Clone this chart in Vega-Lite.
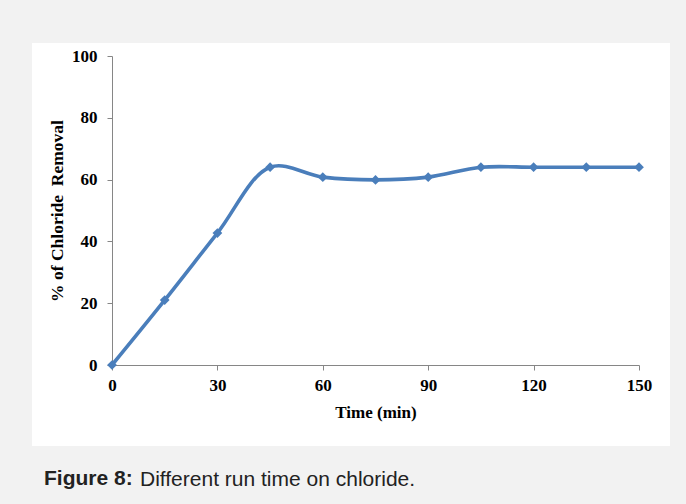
{
  "$schema": "https://vega.github.io/schema/vega-lite/v6.json",
  "autosize": {"type": "none"},
  "width": 638,
  "height": 403,
  "padding": {"left": 32, "top": 43, "right": 16, "bottom": 58},
  "background": "#f2f2f2",
  "data": {
    "values": [
      {"time": 0, "removal": 0},
      {"time": 15, "removal": 21},
      {"time": 30, "removal": 42.7},
      {"time": 45, "removal": 64},
      {"time": 60, "removal": 60.8},
      {"time": 75, "removal": 59.9},
      {"time": 90, "removal": 60.8},
      {"time": 105, "removal": 64},
      {"time": 120, "removal": 64},
      {"time": 135, "removal": 64},
      {"time": 150, "removal": 64}
    ]
  },
  "encoding": {
    "x": {
      "field": "time",
      "type": "quantitative",
      "scale": {"domain": [0, 150], "range": [80, 607], "nice": false},
      "axis": {
        "title": "Time (min)",
        "values": [0, 30, 60, 90, 120, 150],
        "offset": -81,
        "labelPadding": 7,
        "labelFlush": false,
        "labelOverlap": false,
        "titlePadding": 11
      }
    },
    "y": {
      "field": "removal",
      "type": "quantitative",
      "scale": {"domain": [0, 100], "range": [322, 13], "nice": false},
      "axis": {
        "title": "% of Chloride\u00a0 Removal",
        "titleFontSize": 17.5,
        "values": [0, 20, 40, 60, 80, 100],
        "offset": -80,
        "labelPadding": 10,
        "labelFlush": false,
        "labelOverlap": false,
        "titlePadding": 5
      }
    }
  },
  "layer": [
    {
      "mark": {"type": "line", "interpolate": "catmull-rom", "strokeWidth": 3.6},
      "encoding": {
        "color": {
          "datum": "Different run time on chloride.",
          "scale": {"range": ["#4a7ebb"]},
          "legend": {
            "title": "Figure 8:",
            "orient": "bottom",
            "direction": "horizontal",
            "titleOrient": "left",
            "titleFont": "Liberation Sans",
            "titleFontSize": 21,
            "titleFontWeight": "bold",
            "titleColor": "#222222",
            "titlePadding": -14,
            "titleBaseline": "middle",
            "labelFont": "Liberation Sans",
            "labelFontSize": 21,
            "labelColor": "#222222",
            "labelLimit": 0,
            "labelOffset": 0,
            "symbolSize": 0,
            "symbolStrokeWidth": 0,
            "symbolOpacity": 0,
            "offset": 11,
            "padding": 12
          }
        }
      }
    },
    {"mark": {"type": "point", "shape": "diamond", "filled": true, "color": "#4a7ebb", "size": 95, "opacity": 1}}
  ],
  "config": {
    "view": {"fill": "white", "stroke": null},
    "axis": {
      "grid": false,
      "domainColor": "#868686",
      "tickColor": "#868686",
      "tickSize": 5,
      "labelFont": "Liberation Serif",
      "labelFontWeight": "bold",
      "labelFontSize": 17,
      "labelColor": "#000000",
      "titleFont": "Liberation Serif",
      "titleFontWeight": "bold",
      "titleFontSize": 17,
      "titleColor": "#000000"
    }
  }
}
